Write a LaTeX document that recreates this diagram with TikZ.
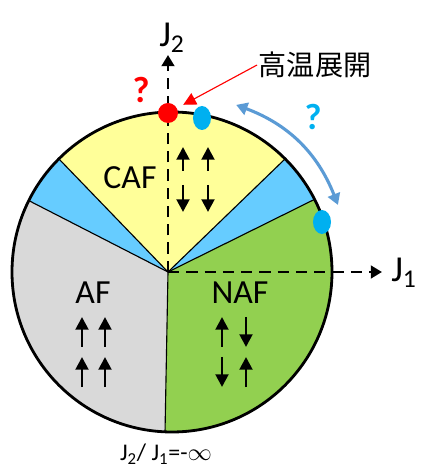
\documentclass[tikz,border=0pt]{standalone}
\usepackage{fontspec}
\setmainfont{Carlito}
\newfontfamily\jpfont{Noto Sans CJK JP}
\usepackage{tikz}
\usetikzlibrary{shapes.geometric,arrows.meta}
\definecolor{cafyellow}{HTML}{FFFF99}
\definecolor{midblue}{HTML}{66CCFF}
\definecolor{afgrey}{HTML}{D9D9D9}
\definecolor{nafgreen}{HTML}{92D050}
\definecolor{dotblue}{HTML}{00B0F0}
\definecolor{arcblue}{HTML}{5B9BD5}
\tikzset{
  sector/.style   = {draw=black, line width=0.8pt},
  rim/.style      = {draw=black, line width=2pt},
  axis/.style     = {line width=2.1pt, dash pattern=on 8pt off 5pt,
                     -{Triangle[width=9pt,length=8pt]}},
  spin/.style     = {line width=2pt, -{Triangle[width=9pt,length=9pt]}},
  phase/.style    = {font=\fontsize{24}{28}\selectfont},
  axlabel/.style  = {font=\fontsize{26}{28}\selectfont, inner sep=0pt},
  qmark/.style    = {font=\fontsize{26}{28}\selectfont\bfseries, inner sep=0pt},
  reddot/.style   = {circle, fill=red, inner sep=0pt, minimum size=0.5cm},
  bluedot/.style  = {ellipse, fill=dotblue, inner sep=0pt,
                     minimum width=0.45cm, minimum height=0.6cm},
}

\begin{document}
\begin{tikzpicture}[x=0.025cm, y=0.025cm]
\useasboundingbox (-172,-201) rectangle (249,272);

%── phase sectors (circle centre at origin, apex O) ────────────────
\def\R{160}
\coordinate (O) at (-4,0);
\fill[afgrey]    (O) -- (153.5:\R) arc[start angle=153.5, end angle=267.5, radius=\R] -- cycle;
\fill[midblue]   (O) -- (135:\R) arc[start angle=135, end angle=153.5, radius=\R] -- cycle;
\fill[cafyellow] (O) -- (45:\R) arc[start angle=45, end angle=135, radius=\R] -- cycle;
\fill[midblue]   (O) -- (27:\R) arc[start angle=27, end angle=45, radius=\R] -- cycle;
\fill[nafgreen]  (O) -- (-92.5:\R) arc[start angle=-92.5, end angle=27, radius=\R] -- cycle;
% boundaries
\foreach \ang in {27,45,135,153.5,267.5}{
  \draw[sector] (O) -- (\ang:\R);
}
\draw[rim] (0,0) circle (\R);

%── axes ────────────────────────────────────────────────────────────
\coordinate (j2tip) at (-4,217);
\coordinate (j1tip) at (210,0);
\draw[axis] (O) -- (j2tip);
\draw[axis] (O) -- (j1tip);
\node[axlabel, anchor=base west] (j2) at (-13,225) {J\textsubscript{2}};
\node[axlabel, anchor=base west] (j1) at (219,-10) {J\textsubscript{1}};

%── phase labels ────────────────────────────────────────────────────
\node[phase] (caf) at (-42,94)  {CAF};
\node[phase] (af)  at (-79,-21) {AF};
\node[phase] (naf) at (68,-21)  {NAF};
\node[font=\fontsize{17}{20}\selectfont] (limit) at (-6,-182)
  {J\textsubscript{2}/ J\textsubscript{1}=-$\infty$};

%── spin configurations ─────────────────────────────────────────────
% CAF: up up / down down
\foreach \x/\y/\d in {11/101/24,36/101/24,11/87/-27,36/87/-27}{
  \draw[spin] (\x,\y) -- ++(0,\d);
}
% AF: all up
\foreach \x/\y in {-90/-75,-67/-75,-90/-115,-67/-115}{
  \draw[spin] (\x,\y) -- ++(0,30);
}
% NAF: up down / down up
\foreach \x/\y/\d in {50/-75/30,74/-45/-30,50/-85/-30,74/-115/30}{
  \draw[spin] (\x,\y) -- ++(0,\d);
}

%── points on the rim ───────────────────────────────────────────────
\node[reddot]  (htop)  at (-4,159) {};
\node[bluedot] (bdot1) at (30,154) {};
\node[bluedot] (bdot2) at (150,50) {};
\node[qmark, text=red]     (qred)  at (-31,182) {?};
\node[qmark, text=dotblue] (qblue) at (141,155) {?};

%── high-temperature expansion ──────────────────────────────────────
\node[font=\jpfont\fontsize{20}{24}\selectfont, inner sep=1pt] (hte) at (143,207) {高温展開};
\draw[red, line width=0.8pt, -{Triangle[width=9pt,length=9pt]}, shorten >=5pt]
  (hte.west) -- (htop);

%── unknown range between the blue dots ─────────────────────────────
\coordinate (arcA) at (69:179);
\coordinate (arcB) at (22:179);
\draw[arcblue, line width=2.2pt, {Triangle[width=9pt,length=8pt]}-{Triangle[width=9pt,length=8pt]}]
  (arcA) to[bend left=24] (arcB);

\end{tikzpicture}
\end{document}
